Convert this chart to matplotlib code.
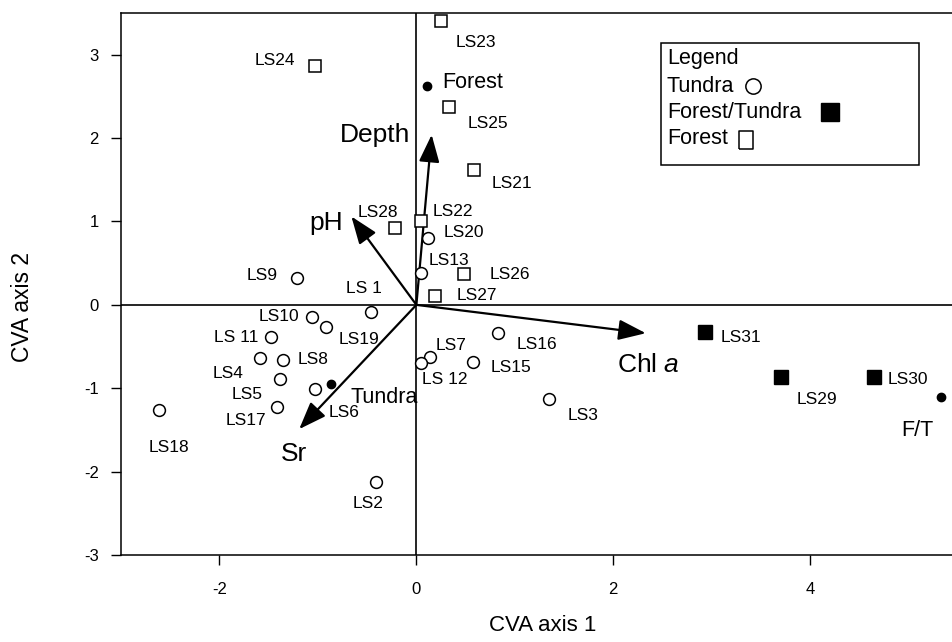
import matplotlib
matplotlib.use('Agg')
import matplotlib.pyplot as plt
from matplotlib.patches import Rectangle

plt.rcParams['font.family'] = ['Liberation Sans', 'DejaVu Sans']
plt.rcParams['mathtext.fontset'] = 'custom'
plt.rcParams['mathtext.rm'] = 'Liberation Sans'
plt.rcParams['mathtext.it'] = 'Liberation Sans:italic'
plt.rcParams['axes.unicode_minus'] = False

# sites: name, CVA axis 1, CVA axis 2
tundra_names = ['LS20', 'LS13', 'LS9', 'LS 1', 'LS10', 'LS19', 'LS 11', 'LS4', 'LS8', 'LS5',
                'LS6', 'LS17', 'LS18', 'LS2', 'LS7', 'LS 12', 'LS15', 'LS16', 'LS3']
tundra_x = [0.12, 0.05, -1.21, -0.46, -1.06, -0.92, -1.48, -1.59, -1.35, -1.39,
            -1.03, -1.42, -2.61, -0.41, 0.14, 0.05, 0.57, 0.83, 1.35]
tundra_y = [0.80, 0.38, 0.32, -0.09, -0.14, -0.26, -0.38, -0.64, -0.66, -0.89,
            -1.01, -1.22, -1.26, -2.13, -0.62, -0.70, -0.68, -0.34, -1.13]

forest_names = ['LS23', 'LS24', 'LS25', 'LS21', 'LS22', 'LS26', 'LS27', 'LS28']
forest_x = [0.25, -1.03, 0.33, 0.59, 0.05, 0.48, 0.19, -0.22]
forest_y = [3.40, 2.86, 2.37, 1.62, 1.00, 0.37, 0.11, 0.92]

ft_names = ['LS31', 'LS29', 'LS30']
ft_x = [2.93, 3.70, 4.65]
ft_y = [-0.32, -0.87, -0.86]

# group centroids
cent_names = ['Forest', 'Tundra', 'F/T']
cent_x = [0.11, -0.87, 5.33]
cent_y = [2.63, -0.95, -1.11]

# environmental vectors
vec_names = ['Depth', 'pH', 'Sr', 'Chl $a$']
vec_x = [0.155, -0.66, -1.19, 2.33]
vec_y = [2.04, 1.06, -1.49, -0.34]

# label offsets in points (placement only)
label_off = {
    'LS23': (25, -15), 'LS24': (-29, 4), 'LS25': (28, -12), 'LS21': (27, -10),
    'LS22': (23, 7), 'LS26': (33, 0), 'LS27': (30, 0), 'LS28': (-12, 11),
    'LS20': (26, 4), 'LS13': (20, 9), 'LS9': (-25, 2), 'LS 1': (-5, 17),
    'LS10': (-24, 0), 'LS19': (24, -9), 'LS 11': (-25, -1), 'LS4': (-23, -11),
    'LS8': (21, 0), 'LS5': (-23, -11), 'LS6': (21, -17), 'LS17': (-22, -10),
    'LS18': (7, -27), 'LS2': (-6, -15), 'LS7': (15, 8), 'LS 12': (17, -12),
    'LS15': (28, -4), 'LS16': (28, -8), 'LS3': (24, -12),
    'LS31': (26, -4), 'LS29': (26, -16), 'LS30': (24, -2),
}
cent_off = {'Forest': (11, 2, 'left'), 'Tundra': (14, -10, 'left'), 'F/T': (-17, -24, 'center')}
vec_off = {'Depth': (-41, 0), 'pH': (-18, -5), 'Sr': (-4, -18), 'Chl $a$': (2, -23)}

fig = plt.figure(figsize=(9.52, 6.42), dpi=100)
ax = fig.add_axes([0.1271, 0.1355, 0.8729, 0.8442])

ax.axhline(0, color='black', lw=1.2, zorder=1)
ax.axvline(0, color='black', lw=1.2, zorder=1)

ax.plot(tundra_x, tundra_y, 'o', ms=8.5, mfc='white', mec='black', mew=1.1, zorder=3)
ax.plot(forest_x, forest_y, 's', ms=9, mfc='white', mec='black', mew=1.1, zorder=3)
ax.plot(ft_x, ft_y, 's', ms=9.5, mfc='black', mec='black', zorder=3)
ax.plot(cent_x, cent_y, 'o', ms=6, color='black', zorder=3)

for names, xs, ys in [(tundra_names, tundra_x, tundra_y),
                      (forest_names, forest_x, forest_y),
                      (ft_names, ft_x, ft_y)]:
    for n, x, y in zip(names, xs, ys):
        ax.annotate(n, (x, y), xytext=label_off[n], textcoords='offset points',
                    ha='center', va='center', fontsize=12.5)

for n, x, y in zip(cent_names, cent_x, cent_y):
    dx, dy, ha = cent_off[n]
    ax.annotate(n, (x, y), xytext=(dx, dy), textcoords='offset points',
                ha=ha, va='center', fontsize=15.5)

for n, x, y in zip(vec_names, vec_x, vec_y):
    ax.annotate('', xy=(x, y), xytext=(0, 0),
                arrowprops=dict(arrowstyle='-|>,head_length=1.2,head_width=0.45',
                                mutation_scale=14, color='black', lw=1.6,
                                shrinkA=0, shrinkB=0), zorder=2)
    dx, dy = vec_off[n]
    ax.annotate(n, (x, y), xytext=(dx, dy), textcoords='offset points',
                ha='center', va='center', fontsize=19)

# legend box drawn by hand
ax.add_patch(Rectangle((0.6495, 0.7196), 0.311, 0.2256, transform=ax.transAxes,
                       fill=False, ec='black', lw=1.1, zorder=4))
leg_rows = ['Legend', 'Tundra', 'Forest/Tundra', 'Forest']
leg_y = [0.917, 0.865, 0.816, 0.768]
for t, yy in zip(leg_rows, leg_y):
    ax.text(0.657, yy, t, transform=ax.transAxes, fontsize=15.5, va='center', ha='left')
tall_box = [(-0.75, -1), (0.75, -1), (0.75, 1), (-0.75, 1), (-0.75, -1)]
ax.plot([0.7605], [0.865], 'o', ms=11, mfc='white', mec='black', mew=1.1,
        transform=ax.transAxes, clip_on=False)
ax.plot([0.853], [0.817], 's', ms=12.5, mfc='black', mec='black',
        transform=ax.transAxes, clip_on=False)
ax.plot([0.752], [0.766], marker=tall_box, ms=13, mfc='white', mec='black', mew=1.1,
        transform=ax.transAxes, clip_on=False)

ax.set_xlim(-3, 5.44)
ax.set_ylim(-3, 3.5)
ax.set_xticks([-2, 0, 2, 4])
ax.set_xticklabels(['-2', '0', '2', '4'])
ax.set_yticks([-3, -2, -1, 0, 1, 2, 3])
ax.set_yticklabels(['-3', '-2', '-1', '0', '1', '2', '3'])
ax.tick_params(axis='x', direction='out', length=7.5, width=1, pad=12, labelsize=12)
ax.tick_params(axis='y', direction='out', length=7, width=1, pad=9, labelsize=12)
ax.spines['right'].set_visible(False)
for s in ['left', 'top', 'bottom']:
    ax.spines[s].set_linewidth(1.1)

ax.set_xlabel('CVA axis 1', fontsize=16)
ax.xaxis.set_label_coords(0.508, -0.1107)
ax.set_ylabel('CVA axis 2', fontsize=16.5)
ax.yaxis.set_label_coords(-0.105, 0.4576)

fig.savefig('out.png', dpi=100)
